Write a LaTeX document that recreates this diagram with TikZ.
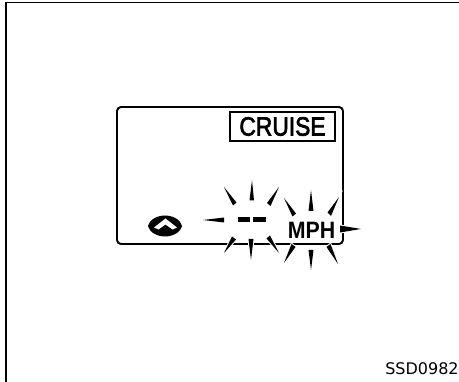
\documentclass[tikz,border=0pt]{standalone}
\usepackage{fontspec}
\setmainfont{Liberation Sans}
\newfontfamily\codefont{DejaVu Sans}
\newfontfamily\lcdfont[RawFeature={embolden=2.8}]{Liberation Sans}
\usepackage{tikz}
\usetikzlibrary{positioning, calc}
\tikzset{
  spike/.style={fill=black, draw=none},
  halo/.style={draw=white, line width=2pt, line join=miter},
  dashbar/.style={fill=black, draw=none},
  disptext/.style={inner sep=0pt, text=black},
}
\begin{document}
\begin{tikzpicture}[x=1pt, y=-1pt]
  \useasboundingbox (0,0) rectangle (459,382);
  % frame
  \draw[line width=1.7pt] (6,382) -- (6,2.5) -- (459,2.5);
  % display
  \draw[line width=1.9pt, rounded corners=4pt] (117,107) rectangle (343,244);
  % cruise label
  \node[draw, line width=1.3pt, minimum width=105pt, minimum height=29pt, inner sep=0pt] (cruisebox) at (282.5,126.5) {};
  \node[disptext, font=\lcdfont\fontsize{26.5}{26.5}\selectfont, xscale=0.86, transform shape] (cruise) at (cruisebox.center) {CRUISE};
  % arrow icon
  \fill[black] (148,226) .. controls (149,220) and (157,215.5) .. (165,215.5) .. controls (173,215.5) and (181,220) .. (182,226) .. controls (181,232) and (173,236.5) .. (165,236.5) .. controls (157,236.5) and (149,232) .. (148,226) -- cycle;
  \fill[white] (154,227.5) -- (165.5,218.5) -- (177,227.5) -- (172.5,229.5) -- (165.5,224.5) -- (158.5,229.5) -- cycle;
  % dashes
  \fill[dashbar] (238,217) rectangle (249.5,222.5);
  \fill[dashbar] (253,217) rectangle (266,222.5);
  % burst round dashes
  \foreach \tx/\ty/\ax/\ay/\bx/\by in {
    252/180/249.5/200.5/254/200.5, 279/187/267/203/270.5/206, 224/187/233/205.5/236.5/202.5,
    203/220/224/217.5/224/222.5, 224/253/232/236.5/236/239.5, 251/260/248.5/239/253.5/239,
    279/253/266.5/238.5/270/235.5}
    {
    \draw[halo] (\tx,\ty) -- (\ax,\ay) -- (\bx,\by) -- cycle;
    \fill[spike] (\tx,\ty) -- (\ax,\ay) -- (\bx,\by) -- cycle;
    }
  % burst round unit
  \foreach \tx/\ty/\ax/\ay/\bx/\by in {
    311/190/308.5/211/313.5/211, 284/198/292.5/216.5/296/213.5, 339/197/327.5/212.5/331/216,
    361/229/340/225.5/340/232.5, 284/263/291.5/244/295.5/247, 311/270/308.5/250/313.5/250,
    338/264/326.5/247/330.5/244}
    {
    \draw[halo] (\tx,\ty) -- (\ax,\ay) -- (\bx,\by) -- cycle;
    \fill[spike] (\tx,\ty) -- (\ax,\ay) -- (\bx,\by) -- cycle;
    }
  % unit
  \node[disptext, font=\bfseries\fontsize{23.7}{23.7}\selectfont, xscale=0.9, transform shape] (unit) at (311.5,230.5) {MPH};
  % code
  \node[disptext, font=\codefont\fontsize{16}{16}\selectfont] (code) at (422,369) {SSD0982};
\end{tikzpicture}
\end{document}
